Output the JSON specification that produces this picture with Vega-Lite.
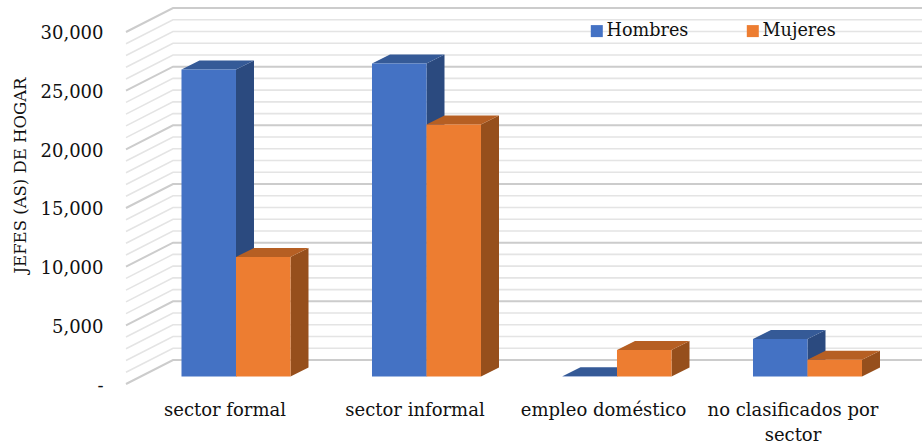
{
"$schema":"https://vega.github.io/schema/vega-lite/v6.json",
"autosize":{"type":"none"},
"padding":{"left":126,"top":8,"right":0,"bottom":63},
"width":796,"height":376,
"background":"white",
"config":{"view":{"stroke":null},"font":"DejaVu Serif"},
"datasets":{
"valores":[
{"sector":"sector formal","genero":"Hombres","valor":26170},
{"sector":"sector formal","genero":"Mujeres","valor":10190},
{"sector":"sector informal","genero":"Hombres","valor":26680},
{"sector":"sector informal","genero":"Mujeres","valor":21480},
{"sector":"empleo doméstico","genero":"Hombres","valor":30},
{"sector":"empleo doméstico","genero":"Mujeres","valor":2260},
{"sector":"no clasificados por sector","genero":"Hombres","valor":3200},
{"sector":"no clasificados por sector","genero":"Mujeres","valor":1430}
],
"niveles":[
{"nivel":0},{"nivel":1000},{"nivel":2000},{"nivel":3000},{"nivel":4000},{"nivel":5000},{"nivel":6000},{"nivel":7000},{"nivel":8000},{"nivel":9000},{"nivel":10000},{"nivel":11000},{"nivel":12000},{"nivel":13000},{"nivel":14000},{"nivel":15000},{"nivel":16000},{"nivel":17000},{"nivel":18000},{"nivel":19000},{"nivel":20000},{"nivel":21000},{"nivel":22000},{"nivel":23000},{"nivel":24000},{"nivel":25000},{"nivel":26000},{"nivel":27000},{"nivel":28000},{"nivel":29000},{"nivel":30000}
]
},
"layer":[
{"data":{"name":"niveles"},
"transform":[{"filter":"datum.nivel % 5000 != 0"},{"calculate":"[0,1,2]","as":"p"},{"flatten":["p"]},{"calculate":"[0,0.2467,4.1785][datum.p]","as":"gx"},{"calculate":"datum.nivel+(datum.p>0?2045:0)","as":"gy"}],
"mark":{"type":"line","color":"#e4e4e4","strokeWidth":1.6},
"encoding":{"x":{"field":"gx","type":"quantitative","scale":{"domain":[0,4.1785],"nice":false,"zero":false},
 "axis":{"values":[0.5171,1.5144,2.504,3.4987],"title":null,"domain":false,"ticks":false,"grid":false,"labelFontSize":18,"labelColor":"#111111","labelPadding":17,"labelLineHeight":25,"labelFlush":false,"labelOverlap":false,"labelBound":false,
 "labelExpr":"[['sector formal'],['sector informal'],['empleo doméstico'],['no clasificados por','sector']][floor(datum.value)]"}},
 "y":{"field":"gy","type":"quantitative","scale":{"domain":[0,32045],"nice":false,"zero":false},
 "axis":{"values":[0,5000,10000,15000,20000,25000,30000],"title":"JEFES (AS) DE HOGAR","titleFontSize":16.5,"titleFontWeight":"normal","titleColor":"#111111","titleX":-98,"titleY":167,"domain":false,"ticks":false,"grid":false,"labelFontSize":18,"labelColor":"#111111","labelPadding":23,"labelOffset":2,"labelExpr":"datum.value==0?'-':format(datum.value,',')"}},
 "detail":{"field":"nivel"}}},
{"data":{"name":"niveles"},
"transform":[{"filter":"datum.nivel % 5000 == 0"},{"calculate":"[0,1,2]","as":"p"},{"flatten":["p"]},{"calculate":"[0,0.2467,4.1785][datum.p]","as":"gx"},{"calculate":"datum.nivel+(datum.p>0?2045:0)","as":"gy"}],
"mark":{"type":"line","color":"#cccccc","strokeWidth":2},
"encoding":{"x":{"field":"gx","type":"quantitative"},"y":{"field":"gy","type":"quantitative"},"detail":{"field":"nivel"}}},
{"data":{"name":"valores"},
"transform":[{"filter":"datum.genero=='Hombres'"},{"calculate":"indexof(['sector formal','sector informal','empleo doméstico','no clasificados por sector'],datum.sector)+0.5774","as":"c"},{"calculate":"[0,1]","as":"p"},{"flatten":["p"]},{"calculate":"datum.c+datum.p*0.0945","as":"fx"},{"calculate":"datum.valor+640+datum.p*767","as":"fy"},{"calculate":"640+datum.p*767","as":"fy2"}],
"mark":{"type":"area","color":"#2B4A7F"},
"encoding":{"x":{"field":"fx","type":"quantitative"},"y":{"field":"fy","type":"quantitative"},"y2":{"field":"fy2"},"detail":{"field":"sector"}}},
{"data":{"name":"valores"},
"transform":[{"filter":"datum.genero=='Hombres'"},{"calculate":"indexof(['sector formal','sector informal','empleo doméstico','no clasificados por sector'],datum.sector)+0.5774","as":"c"},{"calculate":"[0,1,2,3]","as":"p"},{"flatten":["p"]},{"calculate":"datum.c-0.2861+[0,0.0945,0.2861,0.3806][datum.p]","as":"fx"},{"calculate":"datum.valor+640+[0,0,0,767][datum.p]","as":"fy"},{"calculate":"datum.valor+640+[0,767,767,767][datum.p]","as":"fy2"}],
"mark":{"type":"area","color":"#355A97"},
"encoding":{"x":{"field":"fx","type":"quantitative"},"y":{"field":"fy","type":"quantitative"},"y2":{"field":"fy2"},"detail":{"field":"sector"}}},
{"data":{"name":"valores"},
"transform":[{"filter":"datum.genero=='Mujeres'"},{"calculate":"indexof(['sector formal','sector informal','empleo doméstico','no clasificados por sector'],datum.sector)+0.5774+0.2861","as":"c"},{"calculate":"[0,1]","as":"p"},{"flatten":["p"]},{"calculate":"datum.c+datum.p*0.0945","as":"fx"},{"calculate":"datum.valor+640+datum.p*767","as":"fy"},{"calculate":"640+datum.p*767","as":"fy2"}],
"mark":{"type":"area","color":"#964F1C"},
"encoding":{"x":{"field":"fx","type":"quantitative"},"y":{"field":"fy","type":"quantitative"},"y2":{"field":"fy2"},"detail":{"field":"sector"}}},
{"data":{"name":"valores"},
"transform":[{"filter":"datum.genero=='Mujeres'"},{"calculate":"indexof(['sector formal','sector informal','empleo doméstico','no clasificados por sector'],datum.sector)+0.5774","as":"c"},{"calculate":"[0,1,2,3]","as":"p"},{"flatten":["p"]},{"calculate":"datum.c+[0,0.0945,0.2861,0.3806][datum.p]","as":"fx"},{"calculate":"datum.valor+640+[0,0,0,767][datum.p]","as":"fy"},{"calculate":"datum.valor+640+[0,767,767,767][datum.p]","as":"fy2"}],
"mark":{"type":"area","color":"#B65F23"},
"encoding":{"x":{"field":"fx","type":"quantitative"},"y":{"field":"fy","type":"quantitative"},"y2":{"field":"fy2"},"detail":{"field":"sector"}}},
{"data":{"name":"valores"},
"transform":[{"calculate":"indexof(['sector formal','sector informal','empleo doméstico','no clasificados por sector'],datum.sector)+0.5774+(datum.genero=='Mujeres'?0:-0.2861)","as":"x1"},{"calculate":"datum.x1+0.2861","as":"x2"},{"calculate":"datum.valor+640","as":"arriba"},{"calculate":"640","as":"base"}],
"mark":{"type":"bar"},
"encoding":{"x":{"field":"x1","type":"quantitative"},"x2":{"field":"x2"},"y":{"field":"arriba","type":"quantitative"},"y2":{"field":"base"},
"color":{"field":"genero","type":"nominal","scale":{"domain":["Hombres","Mujeres"],"range":["#4472C4","#ED7D31"]},
"legend":{"title":null,"orient":"none","legendX":462,"legendY":14,"direction":"horizontal","symbolType":"square","symbolSize":144,"symbolStrokeWidth":0,"labelFontSize":17.6,"labelColor":"#111111","labelOffset":1,"columnPadding":55,"fillColor":"transparent"}}}}
]
}
